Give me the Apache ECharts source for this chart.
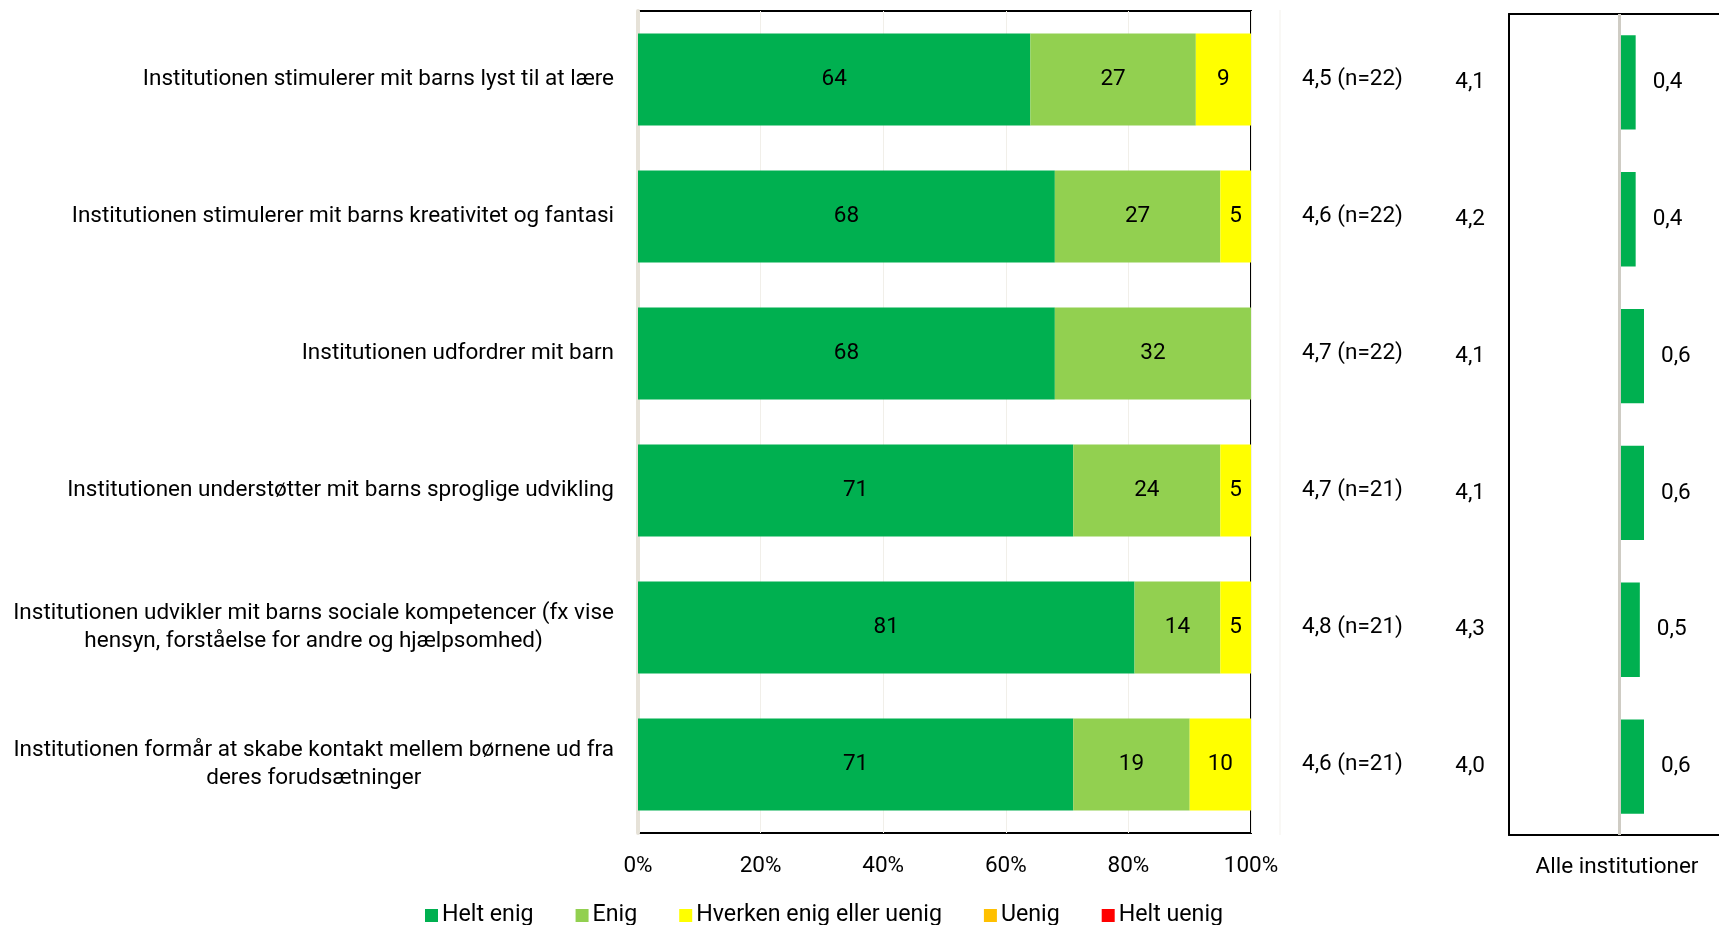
<!DOCTYPE html>
<html>
<head>
<meta charset="utf-8">
<script src="https://cdn.jsdelivr.net/npm/echarts@6/dist/echarts.min.js"></script>
<style>html,body{margin:0;padding:0;background:#fff}#c{width:1719px;height:925px}</style>
</head>
<body>
<div id="c"></div>
<script>
const categories = [
  "Institutionen stimulerer mit barns lyst til at lære",
  "Institutionen stimulerer mit barns kreativitet og fantasi",
  "Institutionen udfordrer mit barn",
  "Institutionen understøtter mit barns sproglige udvikling",
  "Institutionen udvikler mit barns sociale kompetencer (fx vise\nhensyn, forståelse for andre og hjælpsomhed)",
  "Institutionen formår at skabe kontakt mellem børnene ud fra\nderes forudsætninger"
];
const heltEnig = [64, 68, 68, 71, 81, 71];
const enig = [27, 27, 32, 24, 14, 19];
const hverken = [9, 5, 0, 5, 5, 10];
const uenig = [0, 0, 0, 0, 0, 0];
const heltUenig = [0, 0, 0, 0, 0, 0];
const means = [4.5, 4.6, 4.7, 4.7, 4.8, 4.6];
const nValues = [22, 22, 22, 21, 21, 21];
const allMeans = [4.1, 4.2, 4.1, 4.1, 4.3, 4.0];
const diffs = [0.4, 0.4, 0.6, 0.6, 0.5, 0.6];
const seriesNames = ["Helt enig", "Enig", "Hverken enig eller uenig", "Uenig", "Helt uenig"];
const seriesColors = ["#00B050", "#92D050", "#FFFF00", "#FFC000", "#FF0000"];
const xTickMin = 0, xTickMax = 100, xTickStep = 20;

const FONT = "Roboto";
const FS = 22.5;
const comma = v => v.toFixed(1).replace('.', ',');

const chart = echarts.init(document.getElementById('c'));
const mainData = [heltEnig, enig, hverken, uenig, heltUenig];

const mainSeries = mainData.map((arr, i) => ({
  name: seriesNames[i],
  type: 'bar',
  stack: 'total',
  xAxisIndex: 0,
  yAxisIndex: 0,
  barCategoryGap: '33%',
  itemStyle: { color: seriesColors[i] },
  label: {
    show: true,
    position: 'inside',
    color: '#000',
    fontFamily: FONT,
    fontSize: FS,
    formatter: p => (p.value > 0 ? String(p.value) : '')
  },
  emphasis: { disabled: true },
  data: arr
}));

const blackLine = { show: true, onZero: false, lineStyle: { color: '#000', width: 2 } };

const option = {
  animation: false,
  backgroundColor: '#fff',
  textStyle: { fontFamily: FONT },
  legend: {
    data: seriesNames,
    left: 420,
    top: 899,
    icon: 'rect',
    itemWidth: 13,
    itemHeight: 13,
    itemGap: 42,
    textStyle: { fontFamily: FONT, fontSize: 23.2, color: '#000', padding: [0, 0, 0, -1] }
  },
  grid: [
    { left: 638, top: 11, width: 613, height: 822, show: true, borderColor: '#000', borderWidth: 2, containLabel: false },
    { left: 1509, top: 14, width: 210, height: 821, show: false, containLabel: false }
  ],
  xAxis: [
    {
      gridIndex: 0, type: 'value', min: xTickMin, max: xTickMax, interval: xTickStep,
      axisLine: { show: false },
      axisTick: { show: false },
      splitLine: { show: true, lineStyle: { color: '#f1efe9', width: 1 } },
      axisLabel: { formatter: '{value}%', fontFamily: FONT, fontSize: FS, color: '#000', margin: 22 }
    },
    {
      gridIndex: 1, type: 'value', min: -2.64, max: 2.4, position: 'bottom',
      axisLine: blackLine, axisTick: { show: false }, axisLabel: { show: false }, splitLine: { show: false }
    },
    {
      gridIndex: 1, type: 'value', min: -2.64, max: 2.4, position: 'top',
      axisLine: blackLine, axisTick: { show: false }, axisLabel: { show: false }, splitLine: { show: false }
    }
  ],
  yAxis: [
    {
      gridIndex: 0, type: 'category', data: categories, inverse: true,
      axisLine: { show: true, lineStyle: { color: '#e6e2d8', width: 4 } },
      axisTick: { show: false },
      axisLabel: {
        margin: 24,
        color: '#000',
        fontFamily: FONT,
        fontSize: FS,
        formatter: v => v.split('\n').map(l => '{c|' + l + '}').join('\n'),
        rich: { c: { align: 'center', fontFamily: FONT, fontSize: FS, lineHeight: 28.5, color: '#000' } }
      }
    },
    {
      gridIndex: 0, type: 'category', data: categories, inverse: true, position: 'right',
      axisLine: { show: false }, axisTick: { show: false },
      axisLabel: {
        margin: 51, align: 'left', color: '#000', fontFamily: FONT, fontSize: FS,
        formatter: (v, i) => comma(means[i]) + ' (n=' + nValues[i] + ')'
      }
    },
    {
      gridIndex: 1, type: 'category', data: categories, inverse: true, position: 'left',
      axisLine: blackLine, axisTick: { show: false },
      axisLabel: {
        margin: 24, align: 'right', color: '#000', fontFamily: FONT, fontSize: FS,
        formatter: (v, i) => comma(allMeans[i])
      }
    }
  ],
  series: mainSeries.concat([
    {
      name: 'Forskel',
      type: 'bar',
      xAxisIndex: 1,
      yAxisIndex: 2,
      barCategoryGap: '31%',
      itemStyle: { color: '#00B050' },
      label: {
        show: true, position: 'right', distance: 17, color: '#000',
        fontFamily: FONT, fontSize: FS,
        formatter: p => comma(p.value)
      },
      emphasis: { disabled: true },
      markLine: {
        silent: true, symbol: 'none', label: { show: false },
        lineStyle: { color: '#cfccc4', width: 3, type: 'solid' },
        data: [{ xAxis: 0 }]
      },
      data: diffs
    }
  ]),
  graphic: [
    { type: 'line', shape: { x1: 1280, y1: 10, x2: 1280, y2: 835 }, style: { stroke: '#f3f1ec', lineWidth: 1 }, z: -1 },
    { type: 'text', x: 1617, y: 867, style: { text: 'Alle institutioner', font: FS + 'px ' + FONT, fill: '#000', align: 'center', verticalAlign: 'middle' } }
  ]
};
chart.setOption(option);
</script>
</body>
</html>
